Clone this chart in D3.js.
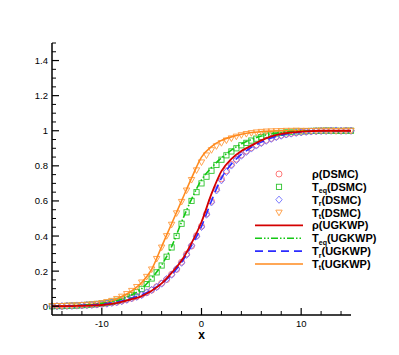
<!DOCTYPE html>
<html>
<head>
<meta charset="utf-8">
<script src="https://cdn.jsdelivr.net/npm/d3@7"></script>
<style>
  body { margin: 0; background: #fff; }
  text { font-family: "Liberation Sans", Arial, sans-serif; }
  .tick-label { font-size: 9.5px; }
  .leg { font-size: 11px; font-weight: bold; }
</style>
</head>
<body>
<div id="chart"></div>
<script>
// x grid of the UGKWP lines
var xLine = [-15, -14, -13, -12, -11, -10, -9, -8, -7, -6, -5, -4, -3, -2, -1, 0,
             1, 2, 3, 4, 5, 6, 7, 8, 9, 10, 11, 12, 13, 14, 15];

var rhoLine = [0.000, 0.000, 0.001, 0.002, 0.004, 0.007, 0.013, 0.025, 0.040, 0.058, 0.088,
               0.130, 0.190, 0.260, 0.360, 0.480, 0.640, 0.770, 0.840, 0.885, 0.915,
               0.945, 0.968, 0.982, 0.990, 0.995, 0.998, 1.000, 1.000, 1.000, 1.000];
var teqLine = [0.000, 0.001, 0.003, 0.006, 0.010, 0.016, 0.025, 0.040, 0.065, 0.100, 0.160,
               0.235, 0.340, 0.480, 0.610, 0.720, 0.790, 0.845, 0.890, 0.925, 0.950,
               0.970, 0.982, 0.990, 0.995, 0.998, 1.000, 1.000, 1.000, 1.000, 1.000];
var trLine = [0.000, 0.001, 0.003, 0.005, 0.008, 0.012, 0.019, 0.030, 0.045, 0.065, 0.093,
              0.130, 0.180, 0.250, 0.345, 0.455, 0.600, 0.730, 0.810, 0.865, 0.905,
              0.935, 0.958, 0.975, 0.986, 0.993, 0.997, 1.000, 1.000, 1.000, 1.000];
var ttLine = [0.000, 0.002, 0.004, 0.007, 0.011, 0.018, 0.030, 0.055, 0.088, 0.135, 0.210,
              0.340, 0.470, 0.600, 0.730, 0.850, 0.910, 0.945, 0.965, 0.980, 0.990,
              0.995, 0.998, 1.000, 1.000, 1.000, 1.000, 1.000, 1.000, 1.000, 1.000];

// x grid of the DSMC samples
var xDsmc = [-15, -14.5, -14, -13.5, -13, -12.5, -12, -11.5, -11, -10.5,
             -10, -9.5, -9, -8.5, -8, -7.5, -7, -6.5, -6, -5.5,
             -5, -4.5, -4, -3.5, -3, -2.5, -2, -1.5, -1, -0.5,
             0, 0.5, 1, 1.5, 2, 2.5, 3, 3.5, 4, 4.5,
             5, 5.5, 6, 6.5, 7, 7.5, 8, 8.5, 9, 9.5,
             10, 10.5, 11, 11.5, 12, 12.5, 13, 13.5, 14, 14.5, 15];

var rhoDsmc = [0.000, 0.001, 0.000, 0.002, 0.003, 0.003, 0.005, 0.006, 0.008, 0.009,
               0.012, 0.016, 0.019, 0.023, 0.030, 0.038, 0.045, 0.055, 0.066, 0.077,
               0.092, 0.111, 0.131, 0.152, 0.182, 0.210, 0.251, 0.297, 0.343, 0.402,
               0.456, 0.526, 0.598, 0.668, 0.726, 0.772, 0.808, 0.838, 0.862, 0.884,
               0.903, 0.919, 0.933, 0.946, 0.956, 0.966, 0.974, 0.980, 0.985, 0.989,
               0.992, 0.995, 0.997, 0.998, 0.999, 1.000, 1.001, 1.000, 0.999, 1.001, 1.000];
var teqDsmc = [0.000, 0.001, 0.001, 0.002, 0.003, 0.004, 0.006, 0.008, 0.010, 0.013,
               0.016, 0.020, 0.025, 0.031, 0.040, 0.051, 0.064, 0.080, 0.099, 0.126,
               0.158, 0.193, 0.232, 0.282, 0.335, 0.400, 0.470, 0.535, 0.600, 0.650,
               0.700, 0.738, 0.772, 0.805, 0.835, 0.860, 0.882, 0.900, 0.917, 0.931,
               0.944, 0.955, 0.964, 0.972, 0.978, 0.984, 0.988, 0.991, 0.994, 0.996,
               0.997, 0.998, 0.999, 1.000, 1.000, 1.001, 1.000, 1.000, 0.999, 1.000, 1.000];
var trDsmc = [0.001, 0.000, 0.001, 0.002, 0.002, 0.004, 0.005, 0.007, 0.008, 0.010,
              0.013, 0.015, 0.020, 0.024, 0.029, 0.037, 0.046, 0.054, 0.064, 0.079,
              0.093, 0.109, 0.129, 0.155, 0.180, 0.213, 0.248, 0.293, 0.346, 0.398,
              0.452, 0.522, 0.592, 0.660, 0.718, 0.765, 0.802, 0.833, 0.858, 0.880,
              0.899, 0.916, 0.930, 0.943, 0.954, 0.964, 0.972, 0.979, 0.984, 0.988,
              0.991, 0.994, 0.996, 0.998, 0.999, 0.999, 1.000, 1.001, 1.000, 1.000, 1.000];
var ttDsmc = [0.001, 0.002, 0.002, 0.003, 0.004, 0.005, 0.007, 0.009, 0.011, 0.014,
              0.018, 0.024, 0.031, 0.042, 0.055, 0.070, 0.088, 0.110, 0.136, 0.168,
              0.210, 0.270, 0.335, 0.400, 0.465, 0.530, 0.595, 0.660, 0.720, 0.775,
              0.820, 0.860, 0.890, 0.912, 0.930, 0.945, 0.957, 0.967, 0.975, 0.982,
              0.987, 0.991, 0.994, 0.996, 0.997, 0.998, 0.999, 1.000, 1.000, 1.001,
              1.000, 1.000, 0.999, 1.000, 1.001, 1.000, 1.000, 0.999, 1.000, 1.000, 1.000];

var xMajor = [-10, 0, 10];
var xMinor = [-14, -12, -8, -6, -4, -2, 2, 4, 6, 8, 12, 14];
var yMajor = [0, 0.2, 0.4, 0.6, 0.8, 1, 1.2, 1.4];
var yMinor = [0.05, 0.1, 0.15, 0.25, 0.3, 0.35, 0.45, 0.5, 0.55, 0.65, 0.7, 0.75,
              0.85, 0.9, 0.95, 1.05, 1.1, 1.15, 1.25, 1.3, 1.35, 1.45, 1.5];

var width = 399, height = 355,
    margin = {left: 52, right: 48, top: 43, bottom: 40},
    svg = d3.select('#chart').append('svg')
        .attr('width', width)
        .attr('height', height);

var x = d3.scaleLinear().domain([-15, 15]).range([margin.left, width - margin.right]);
var y = d3.scaleLinear().domain([-0.05, 1.5]).range([height - margin.bottom, margin.top]);

var plot = svg.append('g');

// markers (DSMC)
var markers = [
    {name: 'rho', vals: rhoDsmc, color: '#ff6b6b', shape: 'circle'},
    {name: 'teq', vals: teqDsmc, color: '#2fc42f', shape: 'square'},
    {name: 'tr', vals: trDsmc, color: '#6f6fff', shape: 'diamond'},
    {name: 'tt', vals: ttDsmc, color: '#ff9a3c', shape: 'tri'}
];

function drawMarker(sel, shape, color) {
    if (shape === 'circle') {
        sel.append('circle').attr('r', 3);
    } else if (shape === 'square') {
        sel.append('rect').attr('x', -2.6).attr('y', -2.6).attr('width', 5.2).attr('height', 5.2);
    } else if (shape === 'diamond') {
        sel.append('path').attr('d', 'M0,-3.6L3.2,0L0,3.6L-3.2,0Z');
    } else {
        sel.append('path').attr('d', 'M-3.2,-2.4L3.2,-2.4L0,3.2Z');
    }
    sel.selectAll('*').attr('fill', 'none').attr('stroke', color).attr('stroke-width', 0.9);
}

markers.forEach(function (m) {
    plot.append('g').selectAll('g')
        .data(xDsmc.map(function (v, i) { return [v, m.vals[i]]; }))
        .enter().append('g')
        .attr('transform', function (d) { return 'translate(' + x(d[0]) + ',' + y(d[1]) + ')'; })
        .each(function () { drawMarker(d3.select(this), m.shape, m.color); });
});

// lines (UGKWP)
var lines = [
    {vals: ttLine, color: '#ff8a1e', width: 1.6, dash: null},
    {vals: teqLine, color: '#14c814', width: 1.6, dash: '7,2,1.5,2,1.5,2'},
    {vals: trLine, color: '#2b2bff', width: 1.6, dash: '8,5'},
    {vals: rhoLine, color: '#d40000', width: 1.8, dash: null}
];

var line = d3.line()
    .x(function (d) { return x(d[0]); })
    .y(function (d) { return y(d[1]); })
    .curve(d3.curveMonotoneX);

lines.forEach(function (l) {
    plot.append('path')
        .datum(xLine.map(function (v, i) { return [v, l.vals[i]]; }))
        .attr('d', line)
        .attr('fill', 'none')
        .attr('stroke', l.color)
        .attr('stroke-width', l.width)
        .attr('stroke-dasharray', l.dash);
});

// axes, ticks pointing inward
var ax = svg.append('g').attr('stroke', '#000');
ax.append('line').attr('x1', x(-15)).attr('x2', x(15)).attr('y1', y(-0.05)).attr('y2', y(-0.05)).attr('stroke-width', 1.5);
ax.append('line').attr('x1', x(-15)).attr('x2', x(-15)).attr('y1', y(-0.05)).attr('y2', y(1.5)).attr('stroke-width', 1.5);

ax.selectAll('.xmaj').data(xMajor).enter().append('line')
    .attr('x1', x).attr('x2', x).attr('y1', y(-0.05)).attr('y2', y(-0.05) - 7).attr('stroke-width', 1.2);
ax.selectAll('.xmin').data(xMinor).enter().append('line')
    .attr('x1', x).attr('x2', x).attr('y1', y(-0.05)).attr('y2', y(-0.05) - 4).attr('stroke-width', 1);
ax.selectAll('.ymaj').data(yMajor).enter().append('line')
    .attr('y1', y).attr('y2', y).attr('x1', x(-15)).attr('x2', x(-15) + 7).attr('stroke-width', 1.2);
ax.selectAll('.ymin').data(yMinor).enter().append('line')
    .attr('y1', y).attr('y2', y).attr('x1', x(-15)).attr('x2', x(-15) + 4).attr('stroke-width', 1);

svg.selectAll('.xlab').data(xMajor).enter().append('text')
    .attr('class', 'tick-label')
    .attr('x', x).attr('y', y(-0.05) + 11.5)
    .attr('text-anchor', 'middle')
    .text(function (d) { return d; });

svg.selectAll('.ylab').data(yMajor).enter().append('text')
    .attr('class', 'tick-label')
    .attr('x', x(-15) - 4).attr('y', function (d) { return y(d) + 3.5; })
    .attr('text-anchor', 'end')
    .text(function (d) { return d; });

svg.append('text')
    .attr('x', x(0)).attr('y', y(-0.05) + 24)
    .attr('text-anchor', 'middle')
    .attr('font-size', 12).attr('font-weight', 'bold')
    .text('x');

// legend
var legItems = [
    {main: 'ρ', sub: '', tail: '(DSMC)', shape: 'circle', color: '#ff6b6b'},
    {main: 'T', sub: 'eq', tail: '(DSMC)', shape: 'square', color: '#2fc42f'},
    {main: 'T', sub: 'r', tail: '(DSMC)', shape: 'diamond', color: '#6f6fff'},
    {main: 'T', sub: 't', tail: '(DSMC)', shape: 'tri', color: '#ff9a3c'},
    {main: 'ρ', sub: '', tail: '(UGKWP)', line: lines[3]},
    {main: 'T', sub: 'eq', tail: '(UGKWP)', line: lines[1]},
    {main: 'T', sub: 'r', tail: '(UGKWP)', line: lines[2]},
    {main: 'T', sub: 't', tail: '(UGKWP)', line: lines[0]}
];

var leg = svg.append('g').attr('transform', 'translate(255,174)');
legItems.forEach(function (d, i) {
    var row = leg.append('g').attr('transform', 'translate(0,' + (i * 12.85) + ')');
    if (d.line) {
        row.append('line').attr('x1', 0).attr('x2', 48).attr('y1', 0).attr('y2', 0)
            .attr('stroke', d.line.color).attr('stroke-width', d.line.width)
            .attr('stroke-dasharray', d.line.dash);
    } else {
        var m = row.append('g').attr('transform', 'translate(24,0)');
        drawMarker(m, d.shape, d.color);
    }
    var t = row.append('text').attr('class', 'leg').attr('x', 57).attr('y', 4).text(d.main);
    if (d.sub) {
        t.append('tspan').attr('font-size', 7).attr('dy', 2.5).text(d.sub);
        t.append('tspan').attr('dy', -2.5).text(d.tail);
    } else {
        t.append('tspan').text(d.tail);
    }
});
</script>
</body>
</html>
